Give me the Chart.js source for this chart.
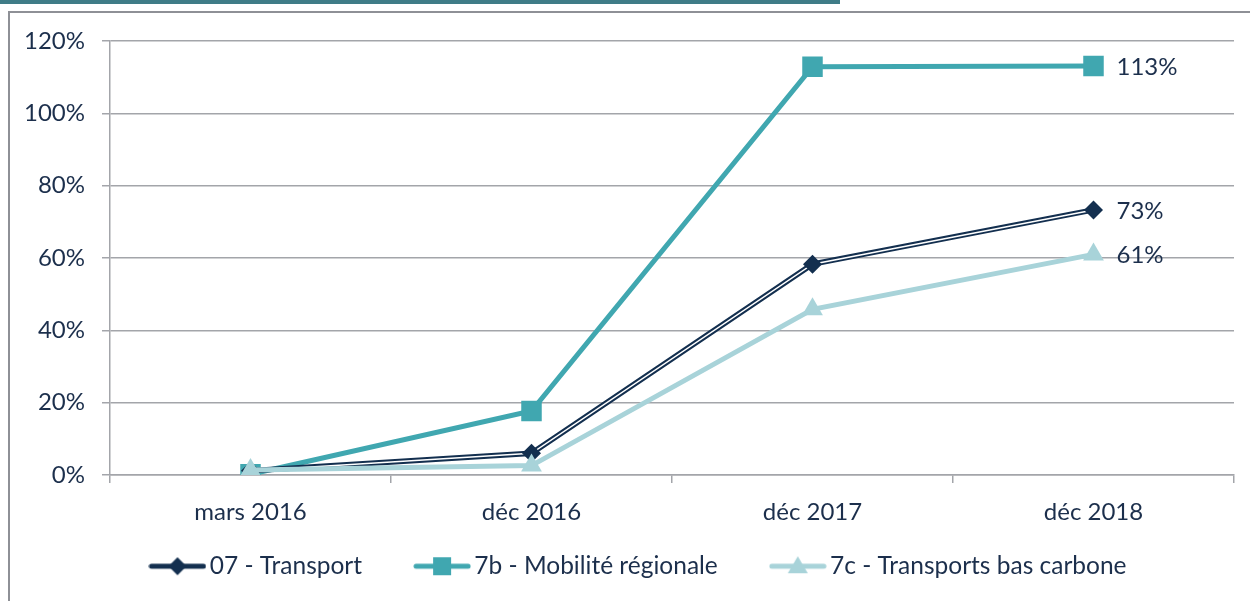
<!DOCTYPE html>
<html>
<head>
<meta charset="utf-8">
<script src="https://cdn.jsdelivr.net/npm/chart.js"></script>
<style>
  body { margin: 0; background: #fff; }
  #wrap { position: relative; width: 1250px; height: 601px; overflow: hidden; }
  #topbar { position: absolute; left: 0; top: 0; width: 840px; height: 4px; background: #3f7c87; }
  #frame { position: absolute; left: 8px; top: 11px; width: 1300px; height: 700px;
           border-left: 2px solid #8e9096; border-top: 2px solid #8e9096; }
  #chartbox { position: absolute; left: 0; top: 0; width: 1250px; height: 601px; }
</style>
</head>
<body>
<div id="wrap">
  <div id="topbar"></div>
  <div id="frame"></div>
  <div id="chartbox"><canvas id="myChart"></canvas></div>
</div>
<script>
  // categories and values (percent)
  const categories = ['mars 2016', 'déc 2016', 'déc 2017', 'déc 2018'];
  const transport = [1.2, 6.0, 58.3, 73.3];
  const mobilite = [0.2, 17.7, 112.9, 113.1];
  const basCarbone = [1.4, 2.6, 45.8, 61.0];
  const yTicks = [0, 20, 40, 60, 80, 100, 120];

  const NAVY = '#132f4f';
  const TEAL = '#40a7b0';
  const LIGHT = '#a8d3d9';
  const TEXT = '#1c2f4c';
  const GRID = '#a3a5aa';
  const FONT = 'Lato';
  const FSIZE = 24;

  // small legend pictures: a line with the marker in the middle
  function legendIcon(color, marker) {
    let c = document.createElement('canvas');
    c.width = 58; c.height = 22;
    let g = c.getContext('2d');
    g.strokeStyle = color;
    g.lineWidth = 5;
    g.lineCap = 'round';
    g.beginPath(); g.moveTo(3, 11); g.lineTo(55, 11); g.stroke();
    g.fillStyle = color;
    g.beginPath();
    if (marker == 'diamond') {
      g.moveTo(29, 2); g.lineTo(38, 11); g.lineTo(29, 20); g.lineTo(20, 11);
    } else if (marker == 'square') {
      g.rect(20, 2, 18, 18);
    } else {
      g.moveTo(29, 1); g.lineTo(39, 18); g.lineTo(19, 18);
    }
    g.closePath(); g.fill();
    return c;
  }
  const icons = [legendIcon(NAVY, 'diamond'), null, null, legendIcon(TEAL, 'square'), legendIcon(LIGHT, 'triangle')];

  // value labels after the last point of each series
  const endLabels = {
    id: 'endLabels',
    afterDatasetsDraw(chart) {
      const ctx = chart.ctx;
      ctx.save();
      ctx.font = FSIZE + 'px ' + FONT;
      ctx.fillStyle = TEXT;
      ctx.textBaseline = 'middle';
      [2, 3, 4].forEach(function (i) {
        let meta = chart.getDatasetMeta(i);
        let data = chart.data.datasets[i].data;
        let last = meta.data[meta.data.length - 1];
        ctx.fillText(Math.round(data[data.length - 1]) + '%', last.x + 23, last.y + 1);
      });
      ctx.restore();
    }
  };

  // nudge the legend box: the big item padding pushes it too low
  const legendShift = {
    id: 'legendShift',
    afterLayout(chart) {
      let lg = chart.legend;
      lg.top -= 31;
      lg.left += 15; lg.right += 15;
    }
  };

  new Chart(document.getElementById('myChart'), {
    type: 'line',
    data: {
      labels: categories,
      datasets: [
        { label: '07 - Transport', data: transport, borderColor: NAVY, backgroundColor: NAVY,
          borderWidth: 5.5, pointRadius: 0, order: 3 },
        { label: 'inner', data: transport, borderColor: '#ffffff', borderWidth: 1.5,
          pointRadius: 0, order: 2 },
        { label: 'points', data: transport, showLine: false, pointStyle: 'rectRot',
          pointRadius: 9.5, pointBackgroundColor: NAVY, pointBorderWidth: 0, order: 1 },
        { label: '7b - Mobilité régionale', data: mobilite, borderColor: TEAL, backgroundColor: TEAL,
          borderWidth: 5, pointStyle: 'rect', pointRadius: 14.5, pointBackgroundColor: TEAL,
          pointBorderWidth: 0, order: 4 },
        { label: '7c - Transports bas carbone', data: basCarbone, borderColor: LIGHT, backgroundColor: LIGHT,
          borderWidth: 5, pointStyle: 'triangle', pointRadius: 12, pointBackgroundColor: LIGHT,
          pointBorderWidth: 0, order: 0 }
      ]
    },
    options: {
      responsive: true,
      maintainAspectRatio: false,
      animation: false,
      layout: { padding: { left: 20, right: 16, top: 41, bottom: 0 } },
      plugins: {
        tooltip: { enabled: false },
        legend: {
          position: 'bottom',
          maxHeight: 76,
          labels: {
            color: TEXT,
            font: { family: FONT, size: 24.5 },
            usePointStyle: true,
            pointStyleWidth: 40,
            padding: 60,
            filter: (item) => [0, 3, 4].includes(item.datasetIndex),
            generateLabels: function (chart) {
              return chart.data.datasets.map(function (ds, i) {
                return { text: ds.label, pointStyle: icons[i], datasetIndex: i,
                         fontColor: TEXT, lineWidth: 0, strokeStyle: 'transparent', fillStyle: 'transparent' };
              });
            }
          }
        }
      },
      scales: {
        x: {
          offset: true,
          grid: { display: true, drawOnChartArea: false, drawTicks: true, tickLength: 8, color: GRID, lineWidth: 1.5, offset: true },
          border: { display: true, color: GRID, width: 1.5 },
          ticks: { color: TEXT, font: { family: FONT, size: FSIZE }, padding: 15, maxRotation: 0 },
          afterFit: (s) => { s.height = 50; }
        },
        y: {
          min: 0, max: 120,
          afterBuildTicks: (s) => { s.ticks = yTicks.map(v => ({ value: v })); },
          grid: { color: GRID, lineWidth: 1.5, tickLength: 8 },
          border: { display: true, color: GRID, width: 1.5 },
          ticks: { color: TEXT, font: { family: FONT, size: FSIZE }, padding: 17, callback: (v) => v + '%' },
          afterFit: (s) => { s.width = 90; }
        }
      }
    },
    plugins: [endLabels, legendShift]
  });
</script>
</body>
</html>
